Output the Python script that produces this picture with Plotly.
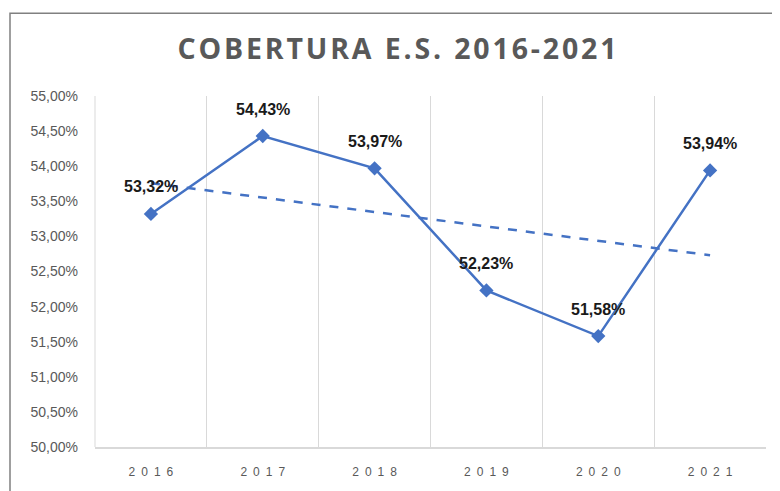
import numpy as np
import plotly.graph_objects as go

years = ["2016", "2017", "2018", "2019", "2020", "2021"]
coverage = [53.32, 54.43, 53.97, 52.23, 51.58, 53.94]
y_ticks = [50.0, 50.5, 51.0, 51.5, 52.0, 52.5, 53.0, 53.5, 54.0, 54.5, 55.0]
title_text = "COBERTURA E.S. 2016-2021"

BLUE = "#4472C4"
GRAY = "#595959"

# linear trendline (as computed by the spreadsheet's trendline feature)
idx = np.arange(len(years))
slope, intercept = np.polyfit(idx, coverage, 1)
trend = slope * idx + intercept

def spaced(s, sep="\u200a"):
    return sep.join(list(s))

def pct(v):
    return f"{v:.2f}%".replace(".", ",")

fig = go.Figure()
fig.add_trace(go.Scatter(
    x=years, y=trend, mode="lines",
    line=dict(color=BLUE, width=2.5, dash="dash"),
    hoverinfo="skip", showlegend=False,
))
fig.add_trace(go.Scatter(
    x=years, y=coverage, mode="lines+markers",
    line=dict(color=BLUE, width=2.5),
    marker=dict(symbol="diamond", size=11, color=BLUE),
    showlegend=False,
))
for i, v in enumerate(coverage):
    fig.add_annotation(x=i, y=v, text=pct(v), showarrow=False,
                       yshift=27, xanchor="center", yanchor="middle",
                       font=dict(family="Liberation Sans, Arial, sans-serif",
                                 size=16, color="#1a1a1a", weight="bold"))

# page is offset by the browser's default 8px body margin
OFF = 8
W, H = 780 - OFF, 491 - OFF
L, R, T, B = 95 - OFF, 780 - 766, 96 - OFF, 491 - 452
pw, ph = W - L - R, H - T - B

def px(x):
    return (x - OFF - L) / pw

def py(y):
    return 1 - (y - OFF - T) / ph

fig.add_shape(type="rect", xref="paper", yref="paper",
              x0=px(10), y0=py(560), x1=px(820), y1=py(12),
              line=dict(color="#808080", width=1.5), layer="below")
# left boundary gridline of the plot area
fig.add_shape(type="line", xref="paper", yref="paper",
              x0=0, x1=0, y0=0, y1=1,
              line=dict(color="#d9d9d9", width=1), layer="below")

fig.update_layout(
    width=W, height=H,
    margin=dict(l=L, r=R, t=T, b=B),
    paper_bgcolor="white", plot_bgcolor="white",
    title=dict(text=f"<b>{spaced(title_text)}</b>", x=(397 - OFF) / W, xanchor="center",
               y=1 - (49 - OFF) / H, yanchor="middle",
               font=dict(family="Open Sans, sans-serif", size=28.5, color=GRAY)),
    xaxis=dict(
        type="category", range=[-0.5, 5.5],
        tickvals=years, ticktext=[spaced(y, "\u2002") for y in years],
        tickson="boundaries", showgrid=True, gridcolor="#d9d9d9", gridwidth=1,
        showline=True, linecolor="#d9d9d9", linewidth=1.5,
        ticks="", ticklabelstandoff=13,
        tickfont=dict(family="Liberation Sans, Arial, sans-serif", size=12, color=GRAY),
        zeroline=False, fixedrange=True,
    ),
    yaxis=dict(
        range=[50, 55], tickvals=y_ticks, ticktext=[pct(v) for v in y_ticks],
        showgrid=False, showline=False, zeroline=False, ticks="",
        ticklabelstandoff=16,
        tickfont=dict(family="Liberation Sans, Arial, sans-serif", size=14, color=GRAY),
    ),
)

fig.write_html("out.html")
